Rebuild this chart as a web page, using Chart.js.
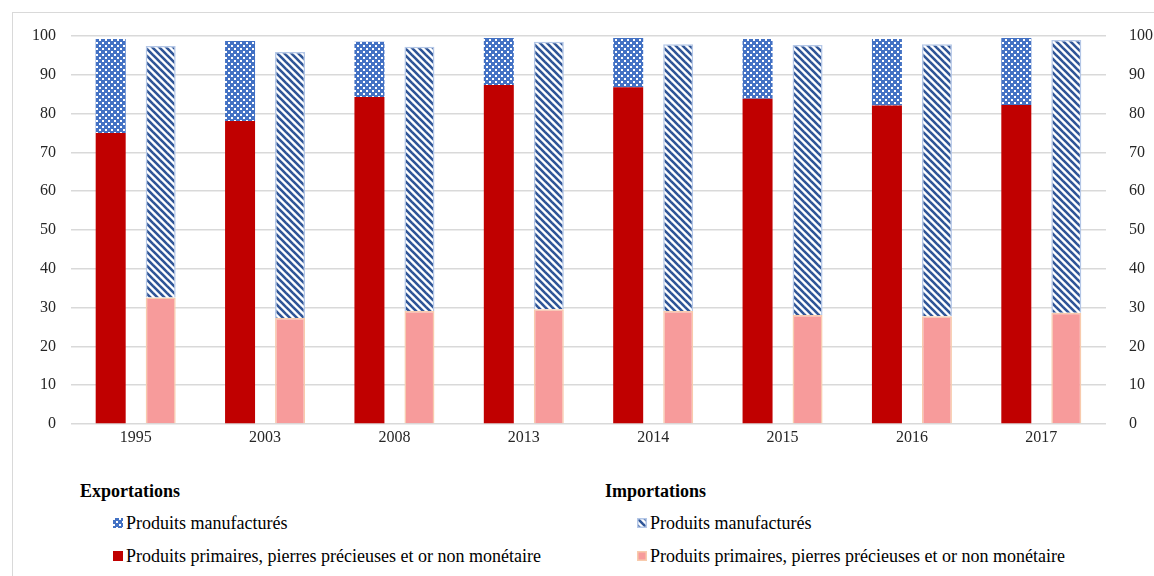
<!DOCTYPE html>
<html lang="fr">
<head>
<meta charset="utf-8">
<script src="https://cdn.jsdelivr.net/npm/chart.js@4/dist/chart.umd.min.js"></script>
<style>
  html, body { margin: 0; padding: 0; background: #fff; }
  body { width: 1154px; height: 576px; position: relative; overflow: hidden; font-family: "Liberation Serif", serif; color: #000; }
  .frame { position: absolute; left: 12px; top: 12px; width: 1200px; height: 600px; border: 1.5px solid #d9d9d9; box-sizing: border-box; }
  .chart-box { position: absolute; left: 0; top: 0; width: 1154px; height: 464px; }
  .leg-title, .leg-item { position: absolute; font-family: "Liberation Serif", serif; font-size: 18px; line-height: 20px; }
  .leg-title { font-weight: bold; }
  .leg-item { display: flex; align-items: center; white-space: nowrap; }
  .leg-item canvas { width: 10px; height: 10px; margin-right: 3px; display: block; }
</style>
</head>
<body>
<div class="frame"></div>
<div class="chart-box"><canvas id="chart"></canvas></div>

<div class="leg-title" style="left:80px; top:481px;">Exportations</div>
<div class="leg-title" style="left:605px; top:481px;">Importations</div>
<div class="leg-item" style="left:113px; top:513px;"><canvas id="ic0" width="10" height="10"></canvas><span id="lt0"></span></div>
<div class="leg-item" style="left:113px; top:546px;"><canvas id="ic1" width="10" height="10"></canvas><span id="lt1"></span></div>
<div class="leg-item" style="left:637px; top:513px;"><canvas id="ic2" width="10" height="10"></canvas><span id="lt2"></span></div>
<div class="leg-item" style="left:637px; top:546px;"><canvas id="ic3" width="10" height="10"></canvas><span id="lt3"></span></div>

<script>
// --- Data (in %) ---
const years = ['1995', '2003', '2008', '2013', '2014', '2015', '2016', '2017'];
const expPrimaires = [75.0, 78.1, 84.3, 87.4, 86.8, 83.8, 82.1, 82.2];
const expManufactures = [24.2, 20.6, 14.2, 12.1, 12.7, 15.4, 17.1, 17.3];
const impPrimaires = [32.6, 27.3, 29.1, 29.6, 29.1, 28.1, 27.8, 28.7];
const impManufactures = [64.8, 68.6, 68.1, 68.9, 68.8, 69.6, 70.1, 70.3];
const yTicks = [0, 10, 20, 30, 40, 50, 60, 70, 80, 90, 100];

const LBL_MANUF = 'Produits manufacturés';
const LBL_PRIM = 'Produits primaires, pierres précieuses et or non monétaire';

const RED = '#c00000';
const PINK = '#f79b9b';
const BLUE = '#4472c4';
const DARK_BLUE = '#2f5597';
const SERIF = "'Liberation Serif', serif";

// --- Fill patterns ---

function dotsPattern(ctx) {
  const c = document.createElement('canvas');
  c.width = 6; c.height = 6;
  const g = c.getContext('2d');
  g.fillStyle = BLUE;
  g.fillRect(0, 0, 6, 6);
  g.fillStyle = '#ffffff';
  g.fillRect(0, 0, 2, 2);
  g.fillRect(3, 3, 2, 2);
  return ctx.createPattern(c, 'repeat');
}

function stripesPattern(ctx) {
  const s = 7;
  const c = document.createElement('canvas');
  c.width = s; c.height = s;
  const g = c.getContext('2d');
  g.fillStyle = '#ffffff';
  g.fillRect(0, 0, s, s);
  g.strokeStyle = DARK_BLUE;
  g.lineWidth = 2.6;
  for (let k = -1; k <= 1; k++) {
    g.beginPath();
    g.moveTo(-1, k * s - 1);
    g.lineTo(s + 1, (k + 1) * s + 1);
    g.stroke();
  }
  return ctx.createPattern(c, 'repeat');
}

const mainCtx = document.getElementById('chart').getContext('2d');
const dots = dotsPattern(mainCtx);
const stripes = stripesPattern(mainCtx);

// --- Legend (HTML) ---

function drawIcon(id, fill, border) {
  const g = document.getElementById(id).getContext('2d');
  g.fillStyle = fill === 'dots' ? dotsPattern(g) : fill === 'stripes' ? stripesPattern(g) : fill;
  g.fillRect(0, 0, 10, 10);
  if (border) {
    g.strokeStyle = border;
    g.lineWidth = 1.5;
    g.strokeRect(0.75, 0.75, 8.5, 8.5);
  }
}
drawIcon('ic0', 'dots', null);
drawIcon('ic1', RED, null);
drawIcon('ic2', 'stripes', '#b4c7e7');
drawIcon('ic3', PINK, '#f8cbad');
document.getElementById('lt0').innerText = LBL_MANUF;
document.getElementById('lt1').innerText = LBL_PRIM;
document.getElementById('lt2').innerText = LBL_MANUF;
document.getElementById('lt3').innerText = LBL_PRIM;

// --- Chart ---

const tickFont = { family: SERIF, size: 16 };

new Chart(mainCtx, {
  type: 'bar',
  data: {
    labels: years,
    datasets: [
      { label: LBL_PRIM, data: expPrimaires, stack: 'exp', backgroundColor: RED, borderWidth: 0 },
      { label: LBL_MANUF, data: expManufactures, stack: 'exp', backgroundColor: dots, borderWidth: 0 },
      { label: LBL_PRIM, data: impPrimaires, stack: 'imp', backgroundColor: PINK, borderColor: '#f8cbad', borderWidth: 1.5 },
      { label: LBL_MANUF, data: impManufactures, stack: 'imp', backgroundColor: stripes, borderColor: '#b4c7e7', borderWidth: 1.5 }
    ]
  },
  options: {
    responsive: true,
    maintainAspectRatio: false,
    animation: false,
    categoryPercentage: 0.773,
    barPercentage: 0.6,
    layout: { padding: { top: 36, left: 0, right: 0, bottom: 0 } },
    plugins: { legend: { display: false }, tooltip: { enabled: false } },
    scales: {
      x: {
        stacked: true,
        grid: { display: false, drawTicks: false },
        border: { display: false },
        ticks: { color: '#262626', font: tickFont, padding: 4, maxRotation: 0 },
        afterFit: (s) => { s.height = 40; }
      },
      y: {
        stacked: true,
        position: 'left',
        min: 0, max: 100,
        afterBuildTicks: (s) => { s.ticks = yTicks.map(v => ({ value: v })); },
        grid: { color: '#d9d9d9', lineWidth: 1.5, drawTicks: false },
        border: { display: false },
        ticks: { color: '#262626', font: tickFont, padding: 15 },
        afterFit: (s) => { s.width = 71; }
      },
      y2: {
        position: 'right',
        min: 0, max: 100,
        afterBuildTicks: (s) => { s.ticks = yTicks.map(v => ({ value: v })); },
        grid: { display: false },
        border: { display: false },
        ticks: { color: '#262626', font: tickFont, padding: 15 },
        afterFit: (s) => { s.width = 48; }
      }
    }
  }
});
</script>
</body>
</html>
